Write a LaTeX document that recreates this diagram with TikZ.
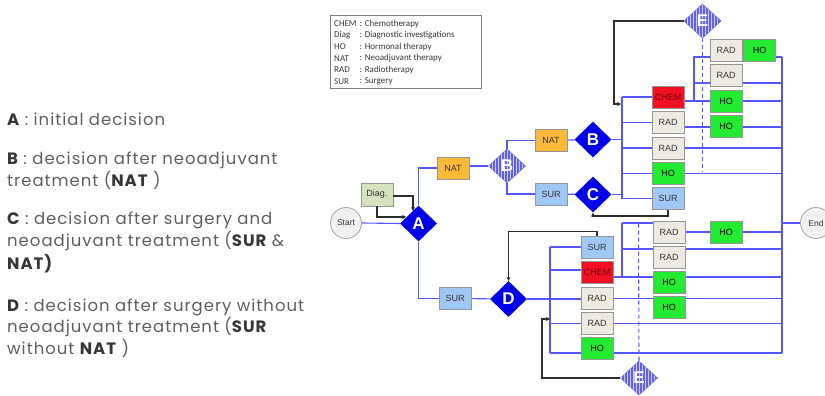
\documentclass[tikz,border=0pt]{standalone}
\usepackage{fontspec}
\setmainfont{Liberation Sans}
\newfontfamily\gothic[LetterSpace=6]{Poppins}
\newfontfamily\calib{Carlito}
\usetikzlibrary{shapes.geometric,arrows.meta,patterns,backgrounds}
\pgfdeclarelayer{bottom}
\pgfsetlayers{bottom,background,main}
\definecolor{lineblue}{RGB}{85,85,255}
\definecolor{dblue}{RGB}{0,0,235}
\definecolor{hblue}{RGB}{95,95,240}
\definecolor{boxgray}{RGB}{150,150,150}
\definecolor{natc}{RGB}{251,185,55}
\definecolor{surc}{RGB}{160,200,245}
\definecolor{chemc}{RGB}{240,16,35}
\definecolor{radc}{RGB}{236,234,225}
\definecolor{hoc}{RGB}{35,235,50}
\definecolor{diagc}{RGB}{214,227,190}
\definecolor{txtgray}{RGB}{95,95,95}
\definecolor{txtdark}{RGB}{55,55,55}
\definecolor{blkc}{RGB}{45,45,45}
\tikzset{
  box/.style={draw=boxgray, line width=0.8, minimum width=32, minimum height=22, inner sep=0,
    font=\fontsize{9}{10}\selectfont, text=txtdark},
  natbox/.style={box, fill=natc},
  surbox/.style={box, fill=surc},
  chembox/.style={box, fill=chemc, text={rgb,255:red,120;green,0;blue,10}},
  radbox/.style={box, fill=radc},
  hobox/.style={box, fill=hoc, text=black},
  diagbox/.style={box, fill=diagc, minimum height=23},
  sdia/.style={diamond, aspect=1, minimum width=37, minimum height=36, inner sep=0, fill=dblue,
    text=white, font=\fontsize{17}{17}\selectfont\bfseries},
  hdia/.style={diamond, aspect=1, minimum width=37, minimum height=34, inner sep=0, draw=hblue,
    line width=0.6, fill=hblue, postaction={pattern=vertical lines, pattern color=white!70!hblue},
    text=white, font=\fontsize{17}{17}\selectfont\bfseries},
  circ/.style={circle, draw=gray!70, line width=0.8, fill=gray!12, minimum size=31, inner sep=0,
    font=\fontsize{8.5}{10}\selectfont, text=txtdark},
  bl/.style={draw=lineblue, line width=1.1},
  dsh/.style={draw=lineblue, line width=1.1, dash pattern=on 4pt off 3pt},
  blk/.style={draw=blkc, line width=1.4, -{Stealth[length=4pt,width=4pt]}},
  lt/.style={anchor=base west, inner sep=0, font=\gothic\fontsize{16.5}{18}\selectfont, text=txtgray},
  lg/.style={anchor=west, inner sep=0, font=\calib\fontsize{9}{10}\selectfont, text=txtdark},
}
\newcommand{\bk}[1]{\textcolor{txtdark}{\bfseries #1}}
\begin{document}
\begin{tikzpicture}[x=1pt,y=-1pt]
\useasboundingbox (0,0) rectangle (825,396);
\begin{pgfonlayer}{bottom}
\fill[white] (0,0) rectangle (825,396);
\end{pgfonlayer}

% left description
\node[lt] (tA) at (7,125) {\bk{A} : initial decision};
\node[lt] (tB1) at (7,164) {\bk{B} : decision after neoadjuvant};
\node[lt] (tB2) at (7,186) {treatment (\bk{NAT} )};
\node[lt] (tC1) at (7,224) {\bk{C} : decision after surgery and};
\node[lt] (tC2) at (7,246) {neoadjuvant treatment (\bk{SUR} \&};
\node[lt] (tC3) at (7,269) {\bk{NAT)}};
\node[lt] (tD1) at (7,311) {\bk{D} : decision after surgery without};
\node[lt] (tD2) at (7,332) {neoadjuvant treatment (\bk{SUR}};
\node[lt] (tD3) at (7,354) {without \bk{NAT} )};

% legend
\node[draw=gray, line width=0.6, minimum width=151, minimum height=73, inner sep=0, anchor=north west] (legend) at (330,15) {};
\foreach \yy/\ab/\de [count=\i] in {24/CHEM/Chemotherapy, 35.5/Diag/Diagnostic investigations, 47/HO/Hormonal therapy, 58.5/NAT/Neoadjuvant therapy, 70/RAD/Radiotherapy, 81.5/SUR/Surgery}{
  \node[lg] (la\i) at (334,\yy) {\ab};
  \node[lg] (ld\i) at (359.5,\yy) {: \de};
}

% nodes
\node[circ] (start) at (346,223) {Start};
\node[diagbox] (diag) at (377,194.5) {Diag.};
\node[sdia] (A) at (418.5,223.5) {A};
\node[natbox] (nat1) at (453,168) {NAT};
\node[hdia] (B1) at (507,166) {B};
\node[natbox] (nat2) at (551,140.5) {NAT};
\node[sdia] (B2) at (593,139.5) {B};
\node[surbox] (sur1) at (551,194) {SUR};
\node[sdia] (C) at (593,194.5) {C};

\node[chembox] (chemU) at (668,97) {CHEM};
\node[radbox] (radU1) at (668,122.5) {RAD};
\node[radbox] (radU2) at (668,148) {RAD};
\node[hobox] (hoU) at (668,173.5) {HO};
\node[surbox] (surU) at (668,198.5) {SUR};
\node[radbox] (radU3) at (726,50) {RAD};
\node[radbox] (radU4) at (726,75.5) {RAD};
\node[hobox] (hoU2) at (726,101) {HO};
\node[hobox] (hoU3) at (726,126) {HO};
\node[hobox] (hoU4) at (759.5,50) {HO};
\node[hdia] (E1) at (702.5,21) {E};
\node[circ] (end) at (816,223) {End};

\node[surbox] (surL) at (455,298.5) {SUR};
\node[sdia] (D) at (508.5,299) {D};
\node[surbox] (surL2) at (597,247) {SUR};
\node[chembox] (chemL) at (597,272.5) {CHEM};
\node[radbox] (radL1) at (597,298.5) {RAD};
\node[radbox] (radL2) at (597,323.5) {RAD};
\node[hobox] (hoL1) at (597,348) {HO};
\node[radbox] (radL3) at (669,232) {RAD};
\node[radbox] (radL4) at (669,257) {RAD};
\node[hobox] (hoL2) at (669,282) {HO};
\node[hobox] (hoL3) at (669,307.5) {HO};
\node[hobox] (hoL4) at (726,232) {HO};
\node[hdia] (E2) at (639,378) {E};

\coordinate (bu) at (622,0);
\coordinate (be) at (782,0);
\coordinate (bL) at (550,0);

\begin{pgfonlayer}{background}
% upper part
\draw[bl] (start.east) -- (A.west);
\draw[bl] (A.north) |- (nat1.west);
\draw[bl] (nat1.east |- B1) -- (B1.west);
\draw[bl] (B1.north) |- (nat2.west);
\draw[bl] (B1.south) |- (sur1.west);
\draw[bl] (nat2) -- (B2);
\draw[bl] (sur1) -- (C);
\draw[bl] (B2.east) -- (B2.east -| bu);
\draw[bl] (C.east) -- (C.east -| bu);
\draw[bl] (chemU.west -| bu) -- (surU.west -| bu);
\foreach \n in {chemU,radU1,radU2,hoU,surU}{\draw[bl] (\n.west) -- (\n.west -| bu);}
\draw[bl] ([yshift=-4pt]chemU.east) -- ([yshift=-4pt]chemU.east -| be);
\draw[bl] (694,101) -- (694,57) -- (782,57);
\draw[bl] (694,83) -- (782,83);
\draw[bl] ([yshift=-4.5pt]radU1.east) -- ([yshift=-4.5pt]radU1.east -| be);
\draw[bl] (radU2.east) -- (radU2.east -| be);
\draw[bl] (hoU.east) -- (hoU.east -| be);
\draw[dsh] (E1.south) -- (702.5,172);
\draw[bl] (782,57) -- (782,353);
\draw[bl] (end.west -| be) -- (end.west);
% lower part
\draw[bl] (A.south) |- (surL.west);
\draw[bl] (surL) -- (D);
\draw[bl] (D.east) -- (D.east -| radL1.west);
\draw[bl] (550,247) -- (550,353);
\draw[bl] (surL2.west) -- (surL2.west -| bL);
\draw[bl] ([yshift=2.5pt]chemL.west) -- ([yshift=2.5pt]chemL.west -| bL);
\draw[bl] (radL2.west) -- (radL2.west -| bL);
\draw[bl] ([yshift=-5pt]hoL1.west) -- ([yshift=-5pt]hoL1.west -| bL);
\draw[bl] (622,223) -- (622,277);
\draw[bl] (622,223) -- (653,223);
\draw[bl] (622,249) -- (782,249);
\draw[bl] ([yshift=-4.5pt]chemL.east) -- ([yshift=-4.5pt]chemL.east -| be);
\draw[bl] (radL1.east) -- (radL1.east -| be);
\draw[bl] (radL2.east) -- (radL2.east -| be);
\draw[bl] ([yshift=-5pt]hoL1.east) -- ([yshift=-5pt]hoL1.east -| be);
\draw[bl] (radL3.east) -- (hoL4.west);
\draw[bl] (hoL4.east) -- (hoL4.east -| be);
\draw[dsh] (E2.north) -- (638.5,223);
\end{pgfonlayer}

% black arrows
\draw[blk] ([yshift=-1.5pt]diag.east) -| (413,211);
\draw[blk] (diag.south) |- (406,217);
\draw[blk] (E1.west) -| (614,104) -- (621,104);
\draw[blk] (surU.south) |- (593,216) -- (C.south);
\draw[blk] (surL2.north) -- ++(0,-4) -| (D.north);
\draw[blk] (E2.west) -| (542,319) -- (550,319);
\end{tikzpicture}
\end{document}
